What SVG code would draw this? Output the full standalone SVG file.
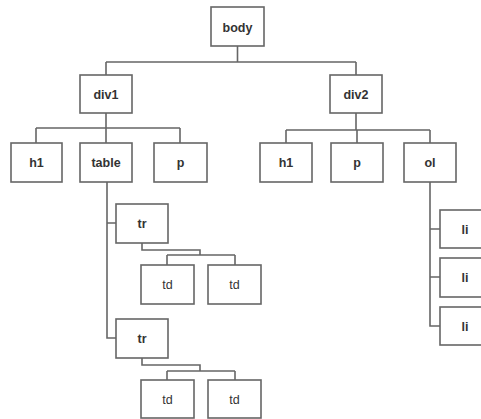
<svg xmlns="http://www.w3.org/2000/svg" width="481" height="419" viewBox="0 0 481 419">
<style>
.n rect{fill:#fff;stroke:#666;stroke-width:1.6}
.n text{font-family:"Liberation Sans",Arial,sans-serif;font-size:12.5px;font-weight:bold;fill:#333;text-anchor:middle}
.n text.r{font-weight:normal}
#edges path{fill:none;stroke:#666;stroke-width:1.6}
</style>
<rect width="481" height="419" fill="#fff"/>
<g id="edges">
<path d="M237.5 46V62M106 62H356M106 62V75M356 62V75"/>
<path d="M106 113V128M36 128H180M36 128V143M106 128V143M180 128V143"/>
<path d="M356 113V130M286 130H430M286 130V143M357 130V143M430 130V143"/>
<path d="M107 182V338H116M107 223H116"/>
<path d="M142 243V250H200V255M167 255H235M167 255V265M235 255V265"/>
<path d="M142 358V365H200V371M167 371H235M167 371V380M235 371V380"/>
<path d="M430 182V326H440M430 229H440M430 277H440"/>
</g>
<g id="body" class="n"><rect x="211" y="7" width="53" height="39"/><text x="237.5" y="32">body</text></g>
<g id="div1" class="n"><rect x="80" y="75" width="52" height="38"/><text x="106" y="99">div1</text></g>
<g id="div2" class="n"><rect x="330" y="75" width="52" height="38"/><text x="356" y="99">div2</text></g>
<g id="h1a" class="n"><rect x="11" y="143" width="51" height="39"/><text x="36.5" y="167">h1</text></g>
<g id="table" class="n"><rect x="80" y="143" width="52" height="39"/><text x="106" y="167">table</text></g>
<g id="pa" class="n"><rect x="154" y="143" width="53" height="39"/><text x="180.5" y="167">p</text></g>
<g id="h1b" class="n"><rect x="260" y="143" width="52" height="39"/><text x="286" y="167">h1</text></g>
<g id="pb" class="n"><rect x="331" y="143" width="52" height="39"/><text x="357" y="167">p</text></g>
<g id="ol" class="n"><rect x="404" y="143" width="52" height="39"/><text x="430" y="167">ol</text></g>
<g id="tr1" class="n"><rect x="116" y="204" width="52" height="39"/><text x="142" y="228">tr</text></g>
<g id="td1" class="n"><rect x="141" y="265" width="53" height="39"/><text class="r" x="167.5" y="289">td</text></g>
<g id="td2" class="n"><rect x="208" y="265" width="53" height="39"/><text class="r" x="234.5" y="289">td</text></g>
<g id="tr2" class="n"><rect x="116" y="319" width="52" height="39"/><text x="142" y="343">tr</text></g>
<g id="td3" class="n"><rect x="141" y="380" width="53" height="38"/><text class="r" x="167.5" y="404">td</text></g>
<g id="td4" class="n"><rect x="208" y="380" width="53" height="38"/><text class="r" x="234.5" y="404">td</text></g>
<g id="li1" class="n"><rect x="440" y="210" width="52" height="38"/><text x="465" y="234">li</text></g>
<g id="li2" class="n"><rect x="440" y="258" width="52" height="39"/><text x="465" y="282">li</text></g>
<g id="li3" class="n"><rect x="440" y="307" width="52" height="38"/><text x="465" y="331">li</text></g>
</svg>
